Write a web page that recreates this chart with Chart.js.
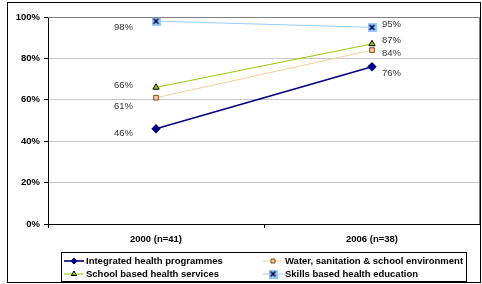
<!DOCTYPE html>
<html>
<head>
<meta charset="utf-8">
<script src="https://cdn.jsdelivr.net/npm/chart.js@4"></script>
<style>
  html, body { margin: 0; padding: 0; background: #fff; }
  #wrap { position: relative; width: 482px; height: 284px; }
</style>
</head>
<body>
<div id="wrap"><canvas id="c" width="482" height="284"></canvas></div>
<script>
// ---- data ----
var categories = ['2000 (n=41)', '2006 (n=38)'];
var seriesNames = ['Integrated health programmes', 'Water, sanitation & school environment',
                   'School based health services', 'Skills based health education'];
var integrated = [46, 76];
var water      = [61, 84];
var schoolSvc  = [66, 87];
var skills     = [98, 95];
var yTicks     = [0, 20, 40, 60, 80, 100];

// label nudges (px) so labels sit like in the original sheet
var labelDy = [[5, 7], [9, 3], [-2, -4], [6, -3]];

// x-in-a-box marker for the skills series
function xMarker() {
  var c = document.createElement('canvas'); c.width = 9; c.height = 9;
  var g = c.getContext('2d');
  g.fillStyle = '#99CCFF'; g.fillRect(0, 0, 9, 9);
  g.strokeStyle = '#000040'; g.lineWidth = 1.6;
  g.beginPath(); g.moveTo(2, 2); g.lineTo(7, 7); g.moveTo(7, 2); g.lineTo(2, 7); g.stroke();
  return c;
}
var skillsMark = xMarker();

var sets = [
  { label: seriesNames[0], data: integrated, borderColor: '#000080', borderWidth: 1.6,
    pointStyle: 'rectRot', pointRadius: 3.6, pointBackgroundColor: '#000080', pointBorderColor: '#000080' },
  { label: seriesNames[1], data: water, borderColor: '#FFCC99', borderWidth: 1,
    pointStyle: 'rect', pointRadius: 3.3, pointBackgroundColor: '#FFCC99', pointBorderColor: '#8A4A1A', pointBorderWidth: 1 },
  { label: seriesNames[2], data: schoolSvc, borderColor: '#99CC00', borderWidth: 1,
    pointStyle: 'triangle', pointRadius: 3.6, pointBackgroundColor: '#99CC00', pointBorderColor: '#000000', pointBorderWidth: 1 },
  { label: seriesNames[3], data: skills, borderColor: '#99CCFF', borderWidth: 1,
    pointStyle: skillsMark, pointRadius: 4 }
];
sets.forEach(function (d) { d.fill = false; d.tension = 0; });

var frame = {
  id: 'frame',
  beforeDraw: function (ch) {
    var g = ch.ctx;
    g.save();
    g.fillStyle = '#fff'; g.fillRect(0, 0, ch.width, ch.height);
    g.strokeStyle = '#000'; g.lineWidth = 1;
    g.strokeRect(7.5, 2.5, 473, 280);
    g.restore();
  },
  afterDraw: function (ch) {
    var g = ch.ctx, a = ch.chartArea;
    g.save();
    // plot border
    g.strokeStyle = '#808080'; g.lineWidth = 1;
    g.beginPath();
    g.moveTo(a.left, a.top + 0.5); g.lineTo(a.right - 0.5, a.top + 0.5); g.lineTo(a.right - 0.5, a.bottom);
    g.stroke();
    // data labels
    g.font = '9.5px Arial, "Liberation Sans", sans-serif';
    g.fillStyle = '#333'; g.textBaseline = 'middle';
    ch.data.datasets.forEach(function (ds, i) {
      var meta = ch.getDatasetMeta(i);
      meta.data.forEach(function (pt, j) {
        var txt = ds.data[j] + '%';
        if (j === 0) { g.textAlign = 'right'; g.fillText(txt, pt.x - 23, pt.y + labelDy[i][j]); }
        else { g.textAlign = 'left'; g.fillText(txt, pt.x + 10, pt.y + labelDy[i][j]); }
      });
    });
    // legend
    var lx = 61.5, ly = 252.5, lw = 405, lh = 29;
    g.strokeStyle = '#000'; g.strokeRect(lx, ly, lw, lh);
    g.font = 'bold 9.5px Arial, "Liberation Sans", sans-serif';
    g.textAlign = 'left'; g.fillStyle = '#000';
    var pos = [[64, 261], [263, 261], [64, 274], [263, 274]];
    ch.data.datasets.forEach(function (ds, i) {
      var x = pos[i][0], y = pos[i][1];
      g.strokeStyle = ds.borderColor; g.lineWidth = ds.borderWidth;
      g.beginPath(); g.moveTo(x, y); g.lineTo(x + 20, y); g.stroke();
      g.lineWidth = ds.pointBorderWidth || 1;
      g.fillStyle = ds.pointBackgroundColor || '#000';
      g.strokeStyle = ds.pointBorderColor || ds.borderColor;
      Chart.helpers.drawPoint(g, { pointStyle: ds.pointStyle, radius: ds.pointRadius * 0.85, borderWidth: ds.pointBorderWidth || 1, rotation: 0 }, x + 10, y);
      g.fillStyle = '#000';
      g.fillText(ds.label, x + 22, y + 0.5);
    });
    g.restore();
  }
};

new Chart(document.getElementById('c'), {
  type: 'line',
  data: { labels: categories, datasets: sets },
  plugins: [frame],
  options: {
    responsive: false, animation: false, devicePixelRatio: 1,
    layout: { autoPadding: false, padding: { left: 0, top: 17, right: 2, bottom: 0 } },
    plugins: { legend: { display: false }, tooltip: { enabled: false }, title: { display: false } },
    scales: {
      x: {
        offset: true,
        grid: { offset: true, drawOnChartArea: false, color: '#000', tickLength: 4, tickColor: '#000' },
        border: { color: '#000', width: 1 },
        ticks: { color: '#000', font: { family: 'Arial', size: 9.5, weight: 'bold' }, padding: 6 },
        afterFit: function (s) { s.height = 60; s.paddingLeft = 0; s.paddingRight = 0; }
      },
      y: {
        min: 0, max: 100,
        afterBuildTicks: function (s) { s.ticks = yTicks.map(function (v) { return { value: v }; }); },
        grid: { color: '#C8C8C8', tickLength: 4, tickColor: '#000', drawTicks: true },
        border: { color: '#000', width: 1 },
        ticks: { color: '#000', font: { family: 'Arial', size: 9.5, weight: 'bold' }, padding: 4,
                 callback: function (v) { return v + '%'; } },
        afterFit: function (s) { s.width = 48; s.paddingTop = 0; s.paddingBottom = 0; }
      }
    }
  }
});
</script>
</body>
</html>
